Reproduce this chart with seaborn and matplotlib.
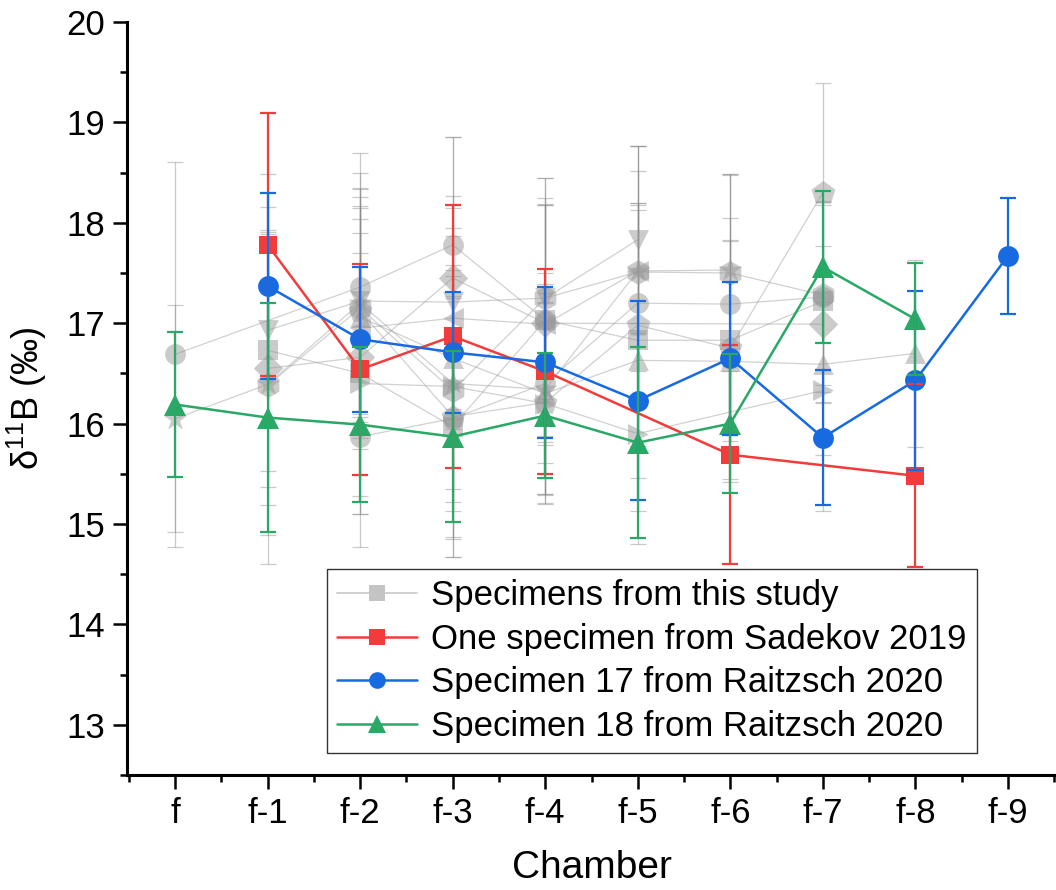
import numpy as np
import pandas as pd
import matplotlib
matplotlib.use("Agg")
import matplotlib.pyplot as plt
import seaborn as sns
from matplotlib.lines import Line2D
from matplotlib.ticker import MultipleLocator, FixedLocator

nan = np.nan

chambers = ["f", "f-1", "f-2", "f-3", "f-4", "f-5", "f-6", "f-7", "f-8", "f-9"]

# --- literature specimens (mean, 2SD) ---
sadekov_d11b = [nan, 17.78, 16.54, 16.87, 16.52, nan, 15.69, nan, 15.48, nan]
sadekov_err = [nan, 1.31, 1.05, 1.31, 1.02, nan, 1.09, nan, 0.91, nan]

raitzsch17_d11b = [nan, 17.37, 16.84, 16.71, 16.61, 16.23, 16.65, 15.86, 16.43, 17.67]
raitzsch17_err = [nan, 0.93, 0.72, 0.60, 0.75, 0.99, 0.76, 0.67, 0.89, 0.58]

raitzsch18_d11b = [16.19, 16.06, 15.99, 15.87, 16.08, 15.81, 16.00, 17.56, 17.04, nan]
raitzsch18_err = [0.72, 1.14, 0.77, 0.85, 0.62, 0.95, 0.69, 0.76, 0.56, nan]

# --- specimens from this study ---
spec01 = [16.69, nan, 17.36, 17.78, 17.03, nan, nan, nan, nan]
spec01_err = [1.92, nan, 1.34, 1.07, 1.42, nan, nan, nan, nan]
spec02 = [16.05, 16.39, 17.20, 16.40, 16.34, 17.52, 17.53, nan, nan]
spec02_err = [1.13, 1.50, 1.30, 1.18, 1.05, 1.24, 0.96, nan, nan]
spec03 = [nan, 16.93, 17.22, 17.21, 17.25, 17.83, nan, nan, nan]
spec03_err = [nan, 1.56, 1.12, 1.06, 1.20, 0.93, nan, nan, nan]
spec04 = [nan, 16.55, 16.66, 17.45, 17.00, nan, nan, 16.99, nan]
spec04_err = [nan, 1.36, 1.38, 1.40, 1.18, nan, nan, 0.78, nan]
spec05 = [nan, 16.38, 17.15, 16.33, 17.25, 17.51, 17.50, 17.28, nan]
spec05_err = [nan, 1.78, 1.20, 1.20, 1.00, 1.25, 0.98, 0.90, nan]
spec06 = [nan, 16.73, 16.50, 15.97, 17.03, 16.83, 16.83, 17.22, nan]
spec06_err = [nan, 1.20, 1.40, 1.30, 1.15, 1.37, 1.00, 1.00, nan]
spec07 = [nan, nan, 17.06, 16.65, 16.30, 16.63, 16.62, 16.59, 16.70]
spec07_err = [nan, nan, 1.20, 1.30, 1.00, 1.50, 1.20, 0.90, 0.93]
spec08 = [nan, nan, 17.12, 16.07, 16.21, 16.98, 16.75, 18.30, nan]
spec08_err = [nan, nan, 1.05, 1.40, 1.00, 1.20, 1.30, 1.09, nan]
spec09 = [nan, nan, 16.40, 16.37, 16.20, 15.90, nan, 16.33, nan]
spec09_err = [nan, nan, 1.30, 1.50, 1.00, 1.10, nan, 1.20, nan]
spec10 = [nan, nan, 15.87, 16.05, 16.40, 17.20, 17.19, 17.26, nan]
spec10_err = [nan, nan, 1.10, 1.20, 1.10, 1.00, 1.30, 0.95, nan]
spec11 = [nan, nan, 16.95, 17.05, 16.99, 17.52, nan, nan, nan]
spec11_err = [nan, nan, 1.20, 1.10, 1.20, 1.00, nan, nan, nan]

study_specimens = [
    (spec01, spec01_err, "o"), (spec02, spec02_err, "*"),
    (spec03, spec03_err, "v"), (spec04, spec04_err, "D"),
    (spec05, spec05_err, "h"), (spec06, spec06_err, "s"),
    (spec07, spec07_err, "^"), (spec08, spec08_err, "p"),
    (spec09, spec09_err, ">"), (spec10, spec10_err, "o"),
    (spec11, spec11_err, "<"),
]

sns.set_theme(style="ticks")
plt.rcParams["font.family"] = ["Liberation Sans", "DejaVu Sans"]
plt.rcParams["mathtext.fontset"] = "custom"
plt.rcParams["mathtext.rm"] = "Liberation Sans"
for key in ("text.color", "axes.labelcolor", "xtick.color", "ytick.color",
            "xtick.labelcolor", "ytick.labelcolor"):
    plt.rcParams[key] = "black"

RED = "#f23c3c"
BLUE = "#176ae0"
GREEN = "#2aa866"
GRAY = "#999999"

fig = plt.figure(figsize=(10.56, 8.9), dpi=100)
ax = fig.add_axes([127 / 1056, (890 - 775) / 890, 929 / 1056, (775 - 22) / 890])


def frame(values, errors):
    pos = np.arange(len(values))
    df = pd.DataFrame({"pos": pos, "val": values, "err": errors})
    return df.dropna(subset=["val"])


# grey specimens: thin translucent lines, error bars and markers
for vals, errs, mk in study_specimens:
    df = frame(vals, errs)
    sns.lineplot(data=df, x="pos", y="val", ax=ax, color=GRAY, alpha=0.45,
                 linewidth=0.9, sort=False, errorbar=None, zorder=1)
    e = df.dropna(subset=["err"])
    ax.errorbar(e["pos"], e["val"], yerr=e["err"], fmt="none", ecolor="#8a8a8a",
                elinewidth=0.9, capsize=5.5, capthick=0.9, alpha=0.45, zorder=1.5)
    size = 18 if mk in ("*", "h", "p") else 15
    sns.scatterplot(data=df, x="pos", y="val", ax=ax, marker=mk, s=size ** 2,
                    color=GRAY, alpha=0.5, linewidth=0, zorder=2)

# literature specimens
literature = [
    (sadekov_d11b, sadekov_err, RED, "s", 13, 3.0),
    (raitzsch17_d11b, raitzsch17_err, BLUE, "o", 15, 3.1),
    (raitzsch18_d11b, raitzsch18_err, GREEN, "^", 16.5, 3.2),
]
for vals, errs, col, mk, ms, z in literature:
    df = frame(vals, errs)
    sns.lineplot(data=df, x="pos", y="val", ax=ax, color=col, linewidth=1.8,
                 marker=mk, markersize=ms, markeredgewidth=0, sort=False,
                 errorbar=None, zorder=z)
    ax.errorbar(df["pos"], df["val"], yerr=df["err"], fmt="none", ecolor=col,
                elinewidth=1.6, capsize=5.5, capthick=1.6, zorder=4)

# axes
ax.set_xlim(-0.52, 9.52)
ax.set_ylim(12.5, 20)
ax.xaxis.set_major_locator(FixedLocator(range(len(chambers))))
ax.set_xticklabels(chambers)
ax.xaxis.set_minor_locator(FixedLocator(np.arange(-0.5, 9.6, 1.0)))
ax.yaxis.set_major_locator(MultipleLocator(1))
ax.yaxis.set_minor_locator(MultipleLocator(0.5))
ax.set_yticks(range(13, 21))

for side in ("top", "right"):
    ax.spines[side].set_visible(False)
for side in ("left", "bottom"):
    ax.spines[side].set_linewidth(2.2)
    ax.spines[side].set_color("black")

ax.tick_params(which="major", length=10, width=1.8, labelsize=25, direction="out",
               color="black", labelcolor="black", pad=6)
ax.tick_params(which="minor", length=5, width=1.8, direction="out", color="black")

ax.set_xlabel("Chamber", fontsize=28, labelpad=14, color="black")
ax.set_ylabel(r"δ$^{\mathregular{11}}$B (‰)", fontsize=26, labelpad=12, color="black")

handles = [
    Line2D([], [], color="#c8c8c8", linewidth=1.2, marker="s", markersize=11,
           markerfacecolor="#c4c4c4", markeredgewidth=0),
    Line2D([], [], color=RED, linewidth=1.8, marker="s", markersize=11, markeredgewidth=0),
    Line2D([], [], color=BLUE, linewidth=1.8, marker="o", markersize=12, markeredgewidth=0),
    Line2D([], [], color=GREEN, linewidth=1.8, marker="^", markersize=13, markeredgewidth=0),
]
labels = [
    "Specimens from this study",
    "One specimen from Sadekov 2019",
    "Specimen 17 from Raitzsch 2020",
    "Specimen 18 from Raitzsch 2020",
]
leg = ax.legend(handles, labels, loc="lower right", bbox_to_anchor=(0.915, 0.029),
                fontsize=25, frameon=True, fancybox=False, framealpha=1,
                edgecolor="#333333", handlelength=2.3, handletextpad=0.4,
                labelspacing=0.3, borderpad=0.3, borderaxespad=0)
leg.get_frame().set_linewidth(1.0)
for t in leg.get_texts():
    t.set_color("black")

fig.savefig("out.png", dpi=100)
